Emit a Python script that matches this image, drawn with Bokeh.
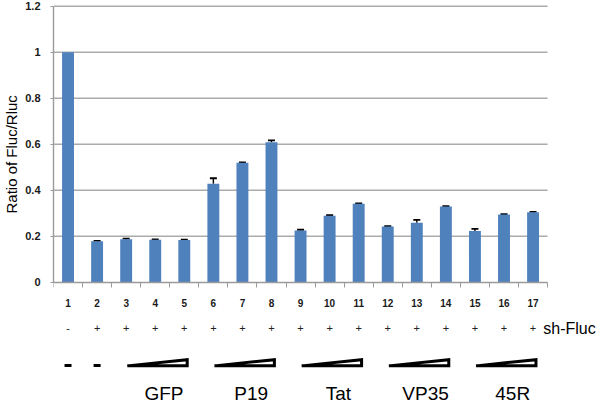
from bokeh.plotting import figure
from bokeh.models import ColumnDataSource, FixedTicker, Whisker, TeeHead, Title
from bokeh.core.properties import value
from bokeh.embed import file_html
from bokeh.resources import INLINE

# ---- data ----
lanes = list(range(1, 18))
ratio = [1.0, 0.178, 0.187, 0.184, 0.183, 0.428, 0.519, 0.609, 0.225,
         0.289, 0.341, 0.242, 0.258, 0.329, 0.223, 0.294, 0.304]
error = [0.0, 0.002, 0.002, 0.002, 0.002, 0.024, 0.002, 0.008, 0.003,
         0.002, 0.002, 0.002, 0.013, 0.002, 0.009, 0.002, 0.002]
sh_fluc = ["-", "+", "+", "+", "+", "+", "+", "+", "+",
           "+", "+", "+", "+", "+", "+", "+", "+"]
row_label = "sh-Fluc"
no_protein_lanes = [1, 2]
groups = ["GFP", "P19", "Tat", "VP35", "45R"]
group_first = [3, 6, 9, 12, 15]
group_last = [5, 8, 11, 14, 17]
y_ticks = [0, 0.2, 0.4, 0.6, 0.8, 1, 1.2]
y_tick_labels = ["0", "0.2", "0.4", "0.6", "0.8", "1", "1.2"]
y_title = "Ratio of Fluc/Rluc"

n = len(lanes)
FONT = "Liberation Sans"

p = figure(width=600, height=404, x_range=(0.5, 19.32), y_range=(-0.532, 1.225),
           output_backend="svg", toolbar_location=None,
           min_border_left=53, min_border_right=0, min_border_top=0, min_border_bottom=0)
p.outline_line_color = None
p.background_fill_color = "white"
p.border_fill_color = "white"
p.xgrid.visible = False
p.ygrid.visible = False

# gridlines (from y tick values), spanning the category axis
grid_vals = [t for t in y_ticks if t > 0]
p.segment(x0=[0.5] * len(grid_vals), x1=[n + 0.5] * len(grid_vals),
          y0=grid_vals, y1=grid_vals, line_color="#ababab", line_width=1.5)

# bars
p.vbar(x=lanes, top=ratio, bottom=0, width=0.41, fill_color="#4F81BD", line_color=None)

# error bars (upper only)
idx = [i for i, e in enumerate(error) if e > 0]
wsrc = ColumnDataSource(dict(x=[lanes[i] for i in idx],
                             lower=[ratio[i] for i in idx],
                             upper=[ratio[i] + error[i] for i in idx]))
w = Whisker(base="x", lower="lower", upper="upper", source=wsrc, dimension="height",
            line_color="black", line_width=1.4,
            upper_head=TeeHead(size=7, line_color="black", line_width=1.8), lower_head=None)
p.add_layout(w)

# x axis at y = 0
xa = p.xaxis[0]
xa.fixed_location = 0
xa.bounds = (0.5, n + 0.5)
xa.ticker = FixedTicker(ticks=lanes, minor_ticks=[i + 0.5 for i in range(0, n + 1)])
xa.major_tick_out = 0
xa.major_tick_in = 0
xa.minor_tick_out = 5
xa.minor_tick_in = 0
xa.axis_line_color = "#9a9a9a"
xa.minor_tick_line_color = "#9a9a9a"
xa.axis_line_width = 1.4
xa.major_label_standoff = 12
xa.major_label_text_font = FONT
xa.major_label_text_font_size = "10px"
xa.major_label_text_font_style = "bold"
xa.major_label_text_color = "#1a1a1a"

# y axis
ya = p.yaxis[0]
ya.bounds = (0, 1.2)
ya.ticker = FixedTicker(ticks=y_ticks, minor_ticks=[])
ya.major_label_overrides = {str(t): lab for t, lab in zip(y_ticks, y_tick_labels)}
ya.major_tick_out = 3
ya.major_tick_in = 0
ya.minor_tick_out = 0
ya.minor_tick_in = 0
ya.axis_line_color = "#9a9a9a"
ya.major_tick_line_color = "#9a9a9a"
ya.axis_line_width = 1.4
ya.major_label_standoff = 10
ya.major_label_text_font = FONT
ya.major_label_text_font_size = "11px"
ya.major_label_text_font_style = "bold"
ya.major_label_text_color = "#1a1a1a"

# y-axis title, placed on the left side so that it sits beside the 0..1.2 span
p.add_layout(Title(text=y_title, align="left", vertical_align="top", offset=191, standoff=2,
                   text_font=FONT, text_font_size="15px", text_font_style="normal",
                   text_color="black"), "left")

# +/- row
p.text(x=lanes, y=[-0.201] * n, text=sh_fluc, text_font=value(FONT),
       text_font_size="11px", text_align="center", text_baseline="middle",
       text_color="#222222")
p.text(x=[n + 0.35], y=[-0.201], text=[row_label], text_font=value(FONT),
       text_font_size="16px", text_align="left", text_baseline="middle",
       text_color="black")

# no-protein dashes
p.rect(x=no_protein_lanes, y=[-0.362] * len(no_protein_lanes), width=7, height=3,
       width_units="screen", height_units="screen", fill_color="black", line_color=None)

# dose wedges
wx, wy = [], []
for f, l in zip(group_first, group_last):
    x0, x1 = f + 0.04, l + 0.1
    wx.append([x0, x1, x1])
    wy.append([-0.364, -0.364, -0.337])
p.patches(wx, wy, fill_color="white", line_color="black", line_width=3, line_join="miter")

# group names
p.text(x=[(f + l) / 2 + 0.3 for f, l in zip(group_first, group_last)],
       y=[-0.484] * len(groups), text=groups, text_font=value(FONT),
       text_font_size="19px", text_align="center", text_baseline="middle",
       text_color="black")

open("out.html", "w").write(file_html(p, INLINE))
